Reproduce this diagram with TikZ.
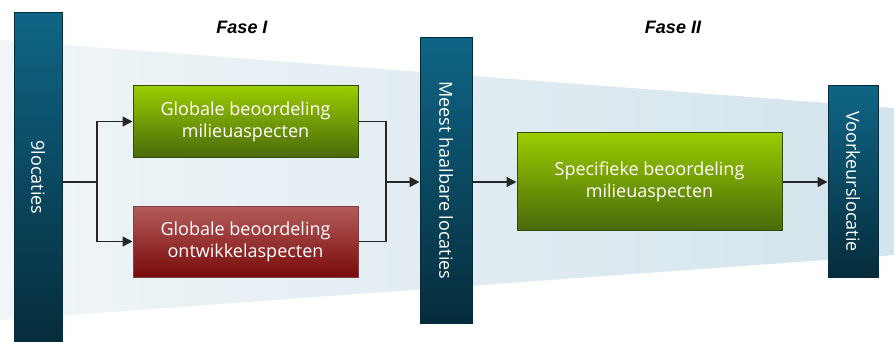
\documentclass[tikz,border=0pt]{standalone}
\usepackage{fontspec}
\setmainfont{Open Sans}
\newfontfamily\fasefont{Liberation Sans}
\usepackage{tikz}
\usetikzlibrary{arrows.meta}
\usetikzlibrary{positioning}

\definecolor{bandleft}{HTML}{F0F5F8}
\definecolor{bandright}{HTML}{D3E4EC}
\definecolor{barlight}{HTML}{0F6586}
\definecolor{bardark}{HTML}{062C3B}
\definecolor{greentop}{HTML}{9BCC00}
\definecolor{greenbottom}{HTML}{4A6A0C}
\definecolor{redtop}{HTML}{B45C5C}
\definecolor{redbottom}{HTML}{780A0A}

\begin{document}
\begin{tikzpicture}[x=1pt, y=-1pt, >={Triangle[length=10pt,width=10pt]}, line width=1.4pt, draw=black!85,
        bar/.style={rotate=-90, draw=bardark, line width=1pt, top color=barlight, bottom color=bardark,
                text=white, font=\fontsize{18}{22}\selectfont, inner sep=0pt},
        box/.style={draw=#1!70!black, line width=1pt, minimum width=225, minimum height=71,
                text=white, align=center, font=\fontsize{18}{22}\selectfont},
        fase/.style={font=\fasefont\fontsize{18}{22}\selectfont\bfseries\itshape}]
        \useasboundingbox (0,0) rectangle (894,342);
        \shade[left color=bandleft, right color=bandright] (0,40) -- (894,108) -- (894,255) -- (0,320) -- cycle;

        \node[bar, minimum width=329, minimum height=48] (start) at (38,177.5) {9locaties};
        \node[bar, minimum width=285, minimum height=52] (haalbaar) at (446,180.5) {Meest haalbare locaties};
        \node[bar, minimum width=191, minimum height=50] (voorkeur) at (853,181.5) {Voorkeurslocatie};

        \node[box=greenbottom, top color=greentop, bottom color=greenbottom] (milieu) at (245.5,121.5) {Globale beoordeling\\milieuaspecten};
        \node[box=redtop, top color=redtop, bottom color=redbottom, below=48pt of milieu] (ontwikkel) {Globale beoordeling\\ontwikkelaspecten};
        \node[box=greenbottom, top color=greentop, bottom color=greenbottom, minimum width=265, minimum height=97] (specifiek) at (649.5,181.5) {Specifieke beoordeling\\milieuaspecten};

        \node[fase] (fase1) at (242,27) {Fase I};
        \node[fase] (fase2) at (673,27) {Fase II};

        \coordinate (split) at (97,182);
        \coordinate (merge) at (386,182);

        \draw (start.north |- split) -- (split);
        \draw[->] (split) |- (milieu.west);
        \draw[->] (split) |- (ontwikkel.west);
        \draw (milieu.east) -| (merge);
        \draw (ontwikkel.east) -| (merge);
        \draw[->] (merge) -- (haalbaar.south |- merge);
        \draw[->] (haalbaar.north |- merge) -- (specifiek.west |- merge);
        \draw[->] (specifiek.east |- merge) -- (voorkeur.south |- merge);
\end{tikzpicture}
\end{document}
